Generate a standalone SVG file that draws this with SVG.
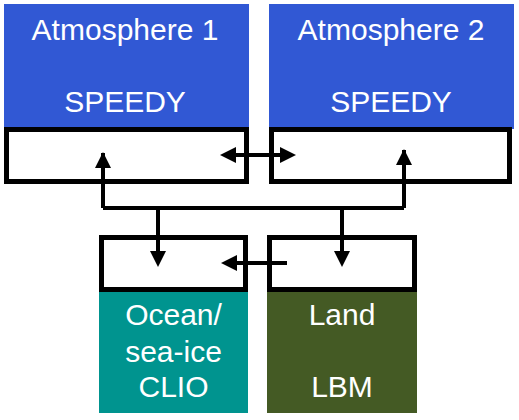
<svg xmlns="http://www.w3.org/2000/svg" width="519" height="420" viewBox="0 0 519 420">
<style>
.lbl{font-family:"Liberation Sans",Arial,sans-serif;font-size:30px;fill:#ffffff;text-anchor:middle}
.cpl{fill:#ffffff;stroke:#000000;stroke-width:5}
.ln{fill:none;stroke:#000000;stroke-width:4}
</style>
<rect width="519" height="420" fill="#ffffff"/>
<g id="atmosphere1">
<rect x="4" y="4" width="245" height="125" fill="#3158D4"/>
<rect class="cpl" x="6.5" y="129.5" width="240" height="52"/>
<text class="lbl" x="125" y="40">Atmosphere 1</text>
<text class="lbl" x="125" y="112">SPEEDY</text>
</g>
<g id="atmosphere2">
<rect x="269" y="4" width="245" height="125" fill="#3158D4"/>
<rect class="cpl" x="271.5" y="129.5" width="238" height="52"/>
<text class="lbl" x="391" y="40">Atmosphere 2</text>
<text class="lbl" x="391" y="112">SPEEDY</text>
</g>
<g id="ocean">
<rect x="99" y="290" width="149" height="123" fill="#00948F"/>
<rect class="cpl" x="101.5" y="237.5" width="144" height="52"/>
<text class="lbl" x="173.5" y="325">Ocean/</text>
<text class="lbl" x="173.5" y="362">sea-ice</text>
<text class="lbl" x="173.5" y="397">CLIO</text>
</g>
<g id="land">
<rect x="267" y="290" width="150" height="123" fill="#445A24"/>
<rect class="cpl" x="269.5" y="237.5" width="145" height="52"/>
<text class="lbl" x="342" y="325">Land</text>
<text class="lbl" x="342" y="397">LBM</text>
</g>
<g id="connectors">
<path class="ln" d="M103,208 L103,153"/>
<path class="ln" d="M404,208 L404,150"/>
<path class="ln" d="M103,208 L404,208"/>
<path d="M103,152 L95,168 L111,168 Z" fill="#000"/>
<path d="M404,149 L396,165 L412,165 Z" fill="#000"/>
<path class="ln" d="M158,208 L158,252"/>
<path d="M158,267 L150,251 L166,251 Z" fill="#000"/>
<path class="ln" d="M342,208 L342,252"/>
<path d="M342,267 L334,251 L350,251 Z" fill="#000"/>
<path class="ln" d="M234,155 L282,155"/>
<path d="M220,155 L236,147 L236,163 Z" fill="#000"/>
<path d="M296,155 L280,147 L280,163 Z" fill="#000"/>
<path class="ln" d="M287,263 L236,263"/>
<path d="M221,263 L237,255 L237,271 Z" fill="#000"/>
</g>
</svg>
